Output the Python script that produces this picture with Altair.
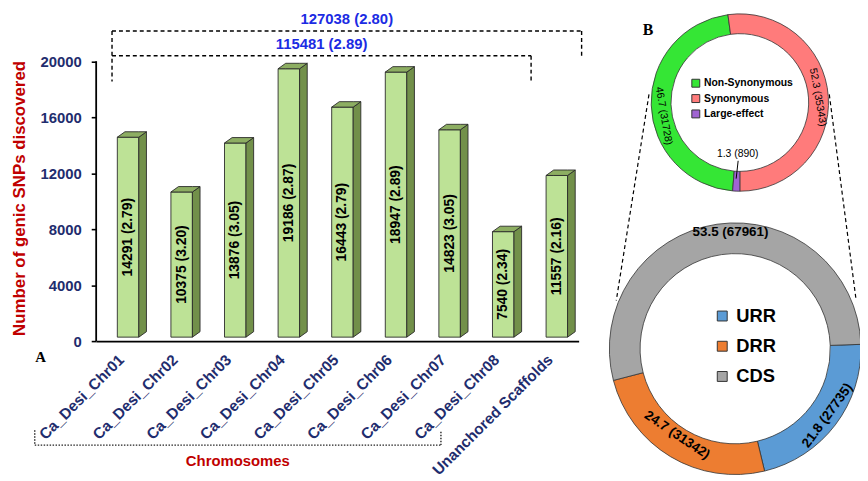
import math
import pandas as pd
import altair as alt

# ---------------- data ----------------
chromosomes = ["Ca_Desi_Chr01", "Ca_Desi_Chr02", "Ca_Desi_Chr03", "Ca_Desi_Chr04",
               "Ca_Desi_Chr05", "Ca_Desi_Chr06", "Ca_Desi_Chr07", "Ca_Desi_Chr08",
               "Unanchored Scaffolds"]
snp_counts = [14291, 10375, 13876, 19186, 16443, 18947, 14823, 7540, 11557]
snp_density = [2.79, 3.20, 3.05, 2.87, 2.79, 2.89, 3.05, 2.34, 2.16]
density_all = 2.80
density_chromosomes = 2.89
y_ticks = [0, 4000, 8000, 12000, 16000, 20000]

effect_classes = ["Non-Synonymous", "Synonymous", "Large-effect"]
effect_counts = [31728, 35343, 890]
effect_pct = [46.7, 52.3, 1.3]

region_classes = ["URR", "DRR", "CDS"]
region_counts = [27735, 31342, 67961]
region_pct = [21.8, 24.7, 53.5]

# ---------------- style / layout ----------------
FONT = "Liberation Sans"
NAVY = "#1F2D6E"
RED = "#C00000"
BLUE_TXT = "#1B2BE3"
BAR_FRONT = "#BDE296"
BAR_SIDE = "#72904A"
BAR_TOP = "#8DAE62"
BAR_EDGE = "#2B2B2B"
EFFECT_COLORS = ["#35E635", "#FF7B7B", "#A064D2"]
REGION_COLORS = ["#5B9BD5", "#ED7D31", "#A5A5A5"]

EFFECT_ORDER = [1, 2, 0]          # stacking order (starts at 6 o'clock)
EFFECT_LABEL_R = [78, 79, 52]
EFFECT_LABEL_ROT = [80, 80, 0]
EFFECT_LABEL_DTH = [-8.5, 0, 0]   # degrees
REGION_ORDER = [0, 1, 2]
REGION_LABEL_R = [115, 105, 118]
REGION_LABEL_ROT = [306, 34, 0]
REGION_LABEL_DTH = [-1.3, 3, 6]

X0, Y0 = 97, 8          # page position of the plot origin
W, H = 487, 334
SVG_W, SVG_H = 860, 473
X_DOM = [-0.595, 8.407]
Y_DOM = [0, 23654]
KX = W / (X_DOM[1] - X_DOM[0])
KY = H / (Y_DOM[1] - Y_DOM[0])


def dx(px):
    return X_DOM[0] + (px - X0) / KX


def dy(py):
    return (Y0 + H - py) / KY


def vx(px):
    return px - X0


def vy(py):
    return py - Y0


xs = alt.Scale(domain=X_DOM, nice=False, zero=False)
ys = alt.Scale(domain=Y_DOM, nice=False, zero=False)

n = len(chromosomes)
idx = list(range(n))
label_expr = "[" + ",".join(f"'{c}'" for c in chromosomes) + "][datum.value]"

AXX = alt.Axis(
    values=idx, labelExpr=label_expr, labelAngle=-45, labelAlign="right",
    labelBaseline="middle", labelOffset=-7, labelPadding=16, ticks=False,
    tickSize=0, domainColor="black", domainWidth=1.6, labelFont=FONT,
    labelFontWeight="bold", labelFontSize=15.5, labelColor=NAVY, grid=False,
    title=None, labelOverlap=False, labelFlush=False, labelBound=False)
AXY = alt.Axis(
    values=y_ticks, format="d", domain=False, ticks=True, tickSize=5, tickColor="black",
    tickWidth=1.6, labelPadding=10, labelFont=FONT, labelFontWeight="bold",
    labelFontSize=15, labelColor=NAVY, grid=False, title=None,
    labelOverlap=False, labelFlush=False)


def X(field):
    return alt.X(field, scale=xs, axis=AXX)


def Y(field):
    return alt.Y(field, scale=ys, axis=AXY, stack=None)


# ---------------- bar chart (A) ----------------
half = 10.85 / KX
depth_x = 7.7 / KX
depth_y = 5.5 / KY
base = 4 / KY

front = pd.DataFrame({
    "chrom": chromosomes,
    "i": idx,
    "x0": [i - half for i in idx],
    "x1": [i + half for i in idx],
    "y0": [base] * n,
    "y1": [c + base for c in snp_counts],
    "ymid": [base + c / 2 for c in snp_counts],
    "label": [f"{c} ({d:.2f})" for c, d in zip(snp_counts, snp_density)],
})

side_rows, top_rows = [], []
for i, c, name in zip(idx, snp_counts, chromosomes):
    t = c + base
    side_rows += [dict(chrom=name, x=i + half, ya=t, yb=base),
                  dict(chrom=name, x=i + half + depth_x, ya=t + depth_y, yb=base + depth_y)]
    top_rows += [dict(chrom=name, x=i - half, ya=t, yb=t),
                 dict(chrom=name, x=i - half + depth_x, ya=t + depth_y, yb=t),
                 dict(chrom=name, x=i + half, ya=t + depth_y, yb=t),
                 dict(chrom=name, x=i + half + depth_x, ya=t + depth_y, yb=t + depth_y)]
side = pd.DataFrame(side_rows)
top = pd.DataFrame(top_rows)

front_layer = alt.Chart(front).mark_rect(
    fill=BAR_FRONT, stroke=BAR_EDGE, strokeWidth=0.9
).encode(x=X("x0:Q"), x2="x1:Q", y=Y("y1:Q"), y2="y0:Q")

side_layer = alt.Chart(side).mark_area(
    fill=BAR_SIDE, stroke=BAR_EDGE, strokeWidth=0.9, interpolate="linear"
).encode(x=X("x:Q"), y=Y("ya:Q"), y2="yb:Q", detail="chrom:N")

top_layer = alt.Chart(top).mark_area(
    fill=BAR_TOP, stroke=BAR_EDGE, strokeWidth=0.9, interpolate="linear"
).encode(x=X("x:Q"), y=Y("ya:Q"), y2="yb:Q", detail="chrom:N")

bar_text = alt.Chart(front).mark_text(
    angle=270, font=FONT, fontWeight="bold", fontSize=14, color="black",
    baseline="middle", align="center"
).encode(x=X("i:Q"), y=Y("ymid:Q"), text="label:N")

y_line = alt.Chart(pd.DataFrame({"lo": [y_ticks[0]], "hi": [y_ticks[-1]]})).mark_rule(
    color="black", strokeWidth=1.8
).encode(x=alt.value(0), y=Y("hi:Q"), y2="lo:Q")

# dashed brackets on top
brackets = pd.DataFrame([
    dict(x=dx(113), x2=dx(113), y=dy(29), y2=dy(80)),
    dict(x=dx(113), x2=dx(587), y=dy(29), y2=dy(29)),
    dict(x=dx(587), x2=dx(587), y=dy(29), y2=dy(54)),
    dict(x=dx(113), x2=dx(536), y=dy(54), y2=dy(54)),
    dict(x=dx(536), x2=dx(536), y=dy(54), y2=dy(80)),
])
bracket_layer = alt.Chart(brackets).mark_rule(
    strokeDash=[4, 3], strokeWidth=1.4, color="black"
).encode(x=X("x:Q"), x2="x2:Q", y=Y("y:Q"), y2="y2:Q")

bracket_labels = pd.DataFrame({
    "x": [(dx(113) + dx(587)) / 2, (dx(113) + dx(536)) / 2],
    "y": [dy(17), dy(42)],
    "label": [f"{sum(snp_counts)} ({density_all:.2f})",
              f"{sum(snp_counts[:8])} ({density_chromosomes:.2f})"],
})
bracket_text = alt.Chart(bracket_labels).mark_text(
    font=FONT, fontWeight="bold", fontSize=15, color=BLUE_TXT, baseline="middle"
).encode(x=X("x:Q"), y=Y("y:Q"), text="label:N")

# dotted "Chromosomes" bracket
chrom_br = pd.DataFrame([
    dict(x=dx(35), x2=dx(35), y=dy(432), y2=dy(447)),
    dict(x=dx(35), x2=dx(445), y=dy(447), y2=dy(447)),
    dict(x=dx(445), x2=dx(445), y=dy(447), y2=dy(432)),
])
chrom_layer = alt.Chart(chrom_br).mark_rule(
    strokeDash=[1.5, 1.5], strokeWidth=1.4, color="#222222"
).encode(x=X("x:Q"), x2="x2:Q", y=Y("y:Q"), y2="y2:Q")

one = pd.DataFrame({"k": [0]})


def label(text, px, py, size, color="black", weight="bold", font=FONT, angle=0):
    kw = dict(text=text, font=font, fontWeight=weight, fontSize=size, color=color,
              baseline="middle", align="center")
    if angle:
        kw["angle"] = angle
    return alt.Chart(one).mark_text(**kw).encode(x=alt.value(vx(px)), y=alt.value(vy(py)))


y_title = label("Number of genic SNPs discovered", 20, 198, 17, RED, angle=270)
x_title = label("Chromosomes", 240, 463, 15, RED)
panel_a = label("A", 41, 358, 15, "black", font="Liberation Serif")
panel_b = label("B", 654, 28, 16, "black", font="Liberation Serif")


def seg(x1, y1, x2, y2, dash=None, width=1.2):
    kw = dict(color="black", strokeWidth=width)
    if dash:
        kw["strokeDash"] = dash
    return alt.Chart(one).mark_rule(**kw).encode(
        x=alt.value(vx(x1)), y=alt.value(vy(y1)), x2=alt.value(vx(x2)), y2=alt.value(vy(y2)))


zoom_left = seg(655, 93, 622, 301, dash=[4, 3])
zoom_right = seg(837, 93, 864, 300, dash=[4, 3])
leader = seg(745, 160, 743, 178, width=1)

# ---------------- donut charts (B) ----------------
TOP_C = (746.7, 101.2)
BOT_C = (742, 349.7)
top_start = math.pi
bot_start = math.radians(88)


def mid_angles(pcts, order, start, offsets):
    total = sum(pcts)
    res = [0.0] * len(pcts)
    cum = 0.0
    for k in sorted(range(len(pcts)), key=lambda j: order[j]):
        res[k] = start + 2 * math.pi * (cum + pcts[k] / 2) / total + math.radians(offsets[k])
        cum += pcts[k]
    return res


eff = pd.DataFrame({
    "cls": effect_classes, "count": effect_counts, "pct": effect_pct,
    "ord": EFFECT_ORDER, "r": EFFECT_LABEL_R, "rot": EFFECT_LABEL_ROT,
    "mid": mid_angles(effect_pct, EFFECT_ORDER, top_start, EFFECT_LABEL_DTH),
    "label": [f"{p:.1f} ({c})" for p, c in zip(effect_pct, effect_counts)],
})
reg = pd.DataFrame({
    "cls": region_classes, "count": region_counts, "pct": region_pct,
    "ord": REGION_ORDER, "r": REGION_LABEL_R, "rot": REGION_LABEL_ROT,
    "mid": mid_angles(region_pct, REGION_ORDER, bot_start, REGION_LABEL_DTH),
    "label": [f"{p:.1f} ({c})" for p, c in zip(region_pct, region_counts)],
})


def legend(lx, ly, sym, fs, rowpad, loff):
    return alt.Legend(orient="none", legendX=lx, legendY=ly, title=None,
                      direction="vertical", symbolType="square", symbolSize=sym,
                      symbolStrokeColor="#333333", symbolStrokeWidth=1,
                      labelFont=FONT, labelFontWeight="bold", labelFontSize=fs,
                      labelColor="black", rowPadding=rowpad, labelOffset=loff,
                      padding=0)


top_arc = alt.Chart(eff).mark_arc(
    radius=89.5, radius2=69.5, stroke="#333333", strokeWidth=0.8
).encode(
    theta=alt.Theta("pct:Q", stack=True,
                    scale=alt.Scale(range=[top_start, top_start + 2 * math.pi])),
    color=alt.Color("cls:N", scale=alt.Scale(domain=effect_classes, range=EFFECT_COLORS),
                    legend=legend(vx(698) - 1, vy(82.7) - 6.25, 64, 10.5, 2.5, 3)),
    order=alt.Order("ord:Q"),
    x=alt.value(vx(TOP_C[0])), y=alt.value(vy(TOP_C[1])),
)
top_txt = alt.Chart(eff).mark_text(
    font=FONT, fontSize=10.5, color="black", baseline="middle", align="center"
).encode(
    theta=alt.Theta("mid:Q", scale=None, stack=None),
    radius=alt.Radius("r:Q", scale=None),
    angle=alt.Angle("rot:Q", scale=None),
    text="label:N",
    x=alt.value(vx(TOP_C[0])), y=alt.value(vy(TOP_C[1])),
)

bot_arc = alt.Chart(reg).mark_arc(
    radius=127, radius2=96, stroke="#333333", strokeWidth=0.8
).encode(
    theta=alt.Theta("pct:Q", stack=True,
                    scale=alt.Scale(range=[bot_start, bot_start + 2 * math.pi])),
    color=alt.Color("cls:N", scale=alt.Scale(domain=region_classes, range=REGION_COLORS),
                    legend=legend(vx(722.7) - 3, vy(316.7) - 9.25, 100, 18.5, 11.5, 5)),
    order=alt.Order("ord:Q"),
    x=alt.value(vx(BOT_C[0])), y=alt.value(vy(BOT_C[1])),
)
bot_txt = alt.Chart(reg).mark_text(
    font=FONT, fontSize=13.5, fontWeight="bold", color="black", baseline="middle", align="center"
).encode(
    theta=alt.Theta("mid:Q", scale=None, stack=None),
    radius=alt.Radius("r:Q", scale=None),
    angle=alt.Angle("rot:Q", scale=None),
    text="label:N",
    x=alt.value(vx(BOT_C[0])), y=alt.value(vy(BOT_C[1])),
)

chart = alt.layer(
    front_layer, side_layer, top_layer, bar_text, y_line,
    zoom_left, zoom_right,
    bracket_layer, chrom_layer,
    bracket_text, y_title, x_title, panel_a, panel_b,
    top_arc, top_txt, leader, bot_arc, bot_txt,
).resolve_scale(
    theta="independent", color="independent"
).properties(
    width=W, height=H,
    autosize=alt.AutoSizeParams(type="none"),
    padding={"left": X0 - 8, "top": Y0 - 8, "right": SVG_W - (X0 - 8) - W,
             "bottom": SVG_H - (Y0 - 8) - H},
).configure(background="white").configure_view(stroke=None, strokeWidth=0)

chart.save("out.html", embed_options={"renderer": "svg", "actions": False})
